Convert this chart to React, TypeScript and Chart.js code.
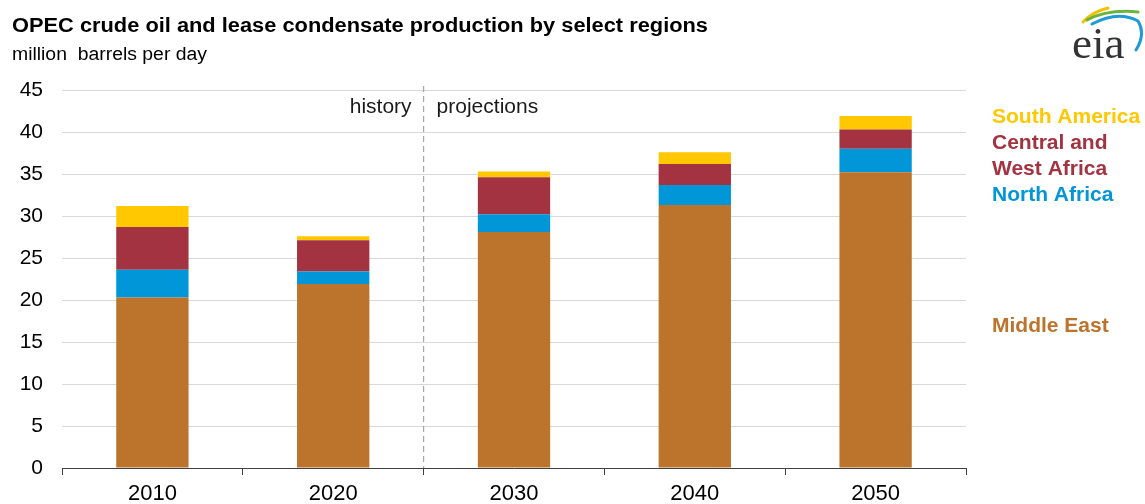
import React, { useEffect, useRef } from "react";
import { Chart, registerables } from "chart.js";

Chart.register(...registerables);

const years = ["2010", "2020", "2030", "2040", "2050"];
const middleEast = [20.3, 21.9, 28.1, 31.3, 35.2];
const northAfrica = [3.3, 1.5, 2.1, 2.4, 2.8];
const centralWestAfrica = [5.1, 3.7, 4.4, 2.5, 2.3];
const southAmerica = [2.5, 0.5, 0.7, 1.4, 1.6];
const yTicks = [0, 5, 10, 15, 20, 25, 30, 35, 40, 45];

const FONT = '"Liberation Sans", Arial, sans-serif';
const C_ME = "#BC732B";
const C_NA = "#0096D7";
const C_CWA = "#A33340";
const C_SA = "#FFC800";

function fitText(ctx: CanvasRenderingContext2D, text: string, x: number, y: number, w: number) {
  const m = ctx.measureText(text).width;
  ctx.save();
  ctx.translate(x, y);
  ctx.scale(w / m, 1);
  ctx.fillText(text, 0, 0);
  ctx.restore();
}

const overlay = {
  id: "overlay",
  afterDraw(chart: any) {
    const ctx = chart.ctx;
    const area = chart.chartArea;
    const x = chart.scales.x;
    ctx.save();
    // Title
    ctx.fillStyle = "#000";
    ctx.textBaseline = "alphabetic";
    ctx.textAlign = "left";
    ctx.font = `bold 20px ${FONT}`;
    fitText(ctx, "OPEC crude oil and lease condensate production by select regions", 12, 32, 696);
    ctx.font = `18px ${FONT}`;
    fitText(ctx, "million  barrels per day", 12, 60, 195);

    // dashed divider
    const xd = (x.getPixelForValue(1) + x.getPixelForValue(2)) / 2;
    ctx.strokeStyle = "#a6a6a6";
    ctx.lineWidth = 1.2;
    ctx.setLineDash([6, 4]);
    ctx.beginPath();
    ctx.moveTo(xd, 86);
    ctx.lineTo(xd, area.bottom);
    ctx.stroke();
    ctx.setLineDash([]);

    ctx.font = `21px ${FONT}`;
    ctx.fillStyle = "#1a1a1a";
    ctx.textAlign = "right";
    ctx.fillText("history", xd - 12, 113);
    ctx.textAlign = "left";
    ctx.fillText("projections", xd + 13, 113);

    // legend labels
    ctx.font = `bold 21px ${FONT}`;
    const lx = 992;
    ctx.fillStyle = C_SA;
    ctx.fillText("South America", lx, 123);
    ctx.fillStyle = C_CWA;
    ctx.fillText("Central and", lx, 149);
    ctx.fillText("West Africa", lx, 175);
    ctx.fillStyle = C_NA;
    ctx.fillText("North Africa", lx, 201);
    ctx.fillStyle = C_ME;
    ctx.fillText("Middle East", lx, 332);

    // eia logo
    ctx.fillStyle = "#333";
    ctx.font = `45px "Liberation Serif", serif`;
    ctx.fillText("eia", 1072, 58);
    ctx.lineCap = "round";
    ctx.lineWidth = 3;
    ctx.strokeStyle = "#F2C200";
    ctx.beginPath();
    ctx.moveTo(1083, 22);
    ctx.quadraticCurveTo(1092, 12, 1108, 8);
    ctx.stroke();
    ctx.strokeStyle = "#6DB33F";
    ctx.beginPath();
    ctx.moveTo(1087, 20);
    ctx.quadraticCurveTo(1108, 9, 1138, 12);
    ctx.stroke();
    ctx.strokeStyle = "#1E9AD6";
    ctx.beginPath();
    ctx.moveTo(1092, 24);
    ctx.quadraticCurveTo(1118, 10, 1138, 21);
    ctx.quadraticCurveTo(1146, 34, 1136, 50);
    ctx.stroke();
    ctx.restore();
  },
};

export default function App() {
  const ref = useRef<HTMLCanvasElement>(null);
  useEffect(() => {
    if (!ref.current) return;
    const chart = new Chart(ref.current, {
      type: "bar",
      data: {
        labels: years,
        datasets: [
          { label: "Middle East", data: middleEast, backgroundColor: C_ME },
          { label: "North Africa", data: northAfrica, backgroundColor: C_NA },
          { label: "Central and West Africa", data: centralWestAfrica, backgroundColor: C_CWA },
          { label: "South America", data: southAmerica, backgroundColor: C_SA },
        ],
      },
      options: {
        animation: false,
        responsive: false,
        layout: { padding: { top: 90, right: 179, left: 0, bottom: 0 } },
        datasets: { bar: { barPercentage: 0.4, categoryPercentage: 1, borderWidth: 0 } },
        plugins: { legend: { display: false }, tooltip: { enabled: false }, title: { display: false } },
        scales: {
          x: {
            stacked: true,
            grid: { display: true, drawOnChartArea: false, drawTicks: true, tickLength: 7, color: "#404040", offset: true },
            border: { display: true, color: "#404040", width: 1 },
            ticks: { font: { family: FONT, size: 22 }, color: "#000", padding: 6 },
            afterFit: (s: any) => { s.height = 36; },
          },
          y: {
            stacked: true,
            min: 0,
            max: 45,
            afterBuildTicks: (s: any) => { s.ticks = yTicks.map((v) => ({ value: v })); },
            grid: { color: "#d9d9d9", drawTicks: false, lineWidth: 1 },
            border: { display: false },
            ticks: { font: { family: FONT, size: 21 }, color: "#000", padding: 19 },
            afterFit: (s: any) => { s.width = 62; },
          },
        },
      },
      plugins: [overlay],
    });
    return () => chart.destroy();
  }, []);
  return (
    <div style={{ position: "absolute", left: 0, top: 0, width: 1145, height: 504, background: "#fff" }}>
      <canvas ref={ref} width={1145} height={504} style={{ width: 1145, height: 504 }} />
    </div>
  );
}
